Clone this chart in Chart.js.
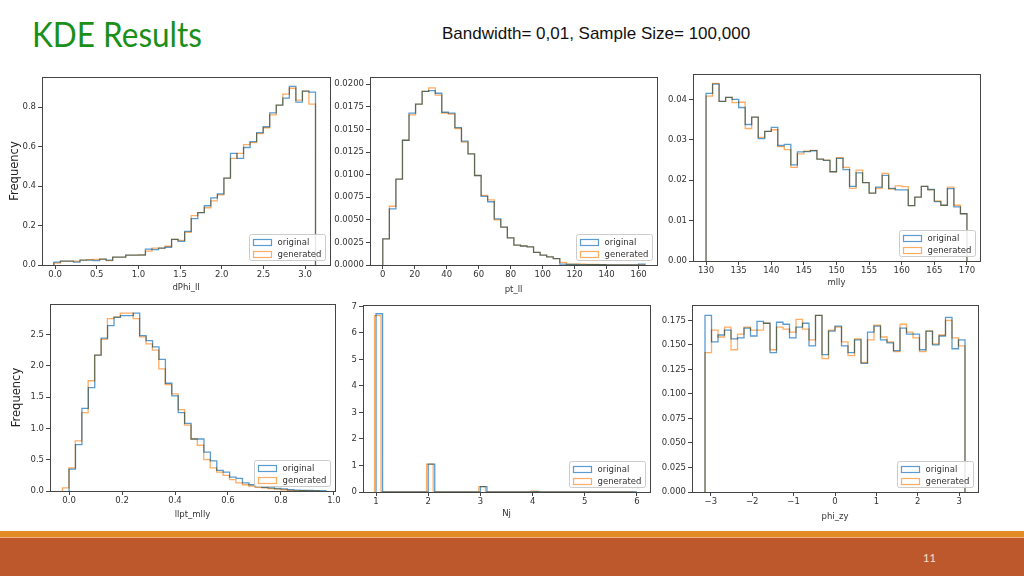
<!DOCTYPE html>
<html>
<head>
<meta charset="utf-8">
<script src="https://cdn.jsdelivr.net/npm/chart.js@4.4.0/dist/chart.umd.min.js"></script>
<style>
  body { margin: 0; width: 1024px; height: 576px; overflow: hidden; background: #fff; position: relative; }
  canvas { position: absolute; }
  #title { position: absolute; left: 32px; top: 16px; font: 35px Lato, "DejaVu Sans", sans-serif; line-height: 1; color: #1a8f1a;
           white-space: nowrap; transform: scaleX(0.9); transform-origin: 0 0; }
  #sub { position: absolute; left: 442px; top: 25px; font: 17px "Liberation Sans", Arial, sans-serif; line-height: 1; color: #111; white-space: nowrap; }
  #band { position: absolute; left: 0; top: 531px; width: 1024px; height: 6px; background: #e38b24; }
  #foot { position: absolute; left: 0; top: 537px; width: 1024px; height: 39px; background: #bc582c; border-top: 1px solid #f0b080; box-sizing: border-box; }
  #page { position: absolute; left: 923px; top: 551px; font: 11px Lato, sans-serif; color: #f8e0d0; }
</style>
</head>
<body>
<div id="title">KDE Results</div>
<div id="sub">Bandwidth= 0,01, Sample Size= 100,000</div>
<div id="band"></div>
<div id="foot"></div>
<div id="page">11</div>
<script>
// ---- data (bin heights, 40 bins each) ----
var seriesNames = ['original', 'generated'];

var dphiOrig = [0.015,0.02,0.02,0.015,0.025,0.025,0.022,0.03,0.025,0.04,0.04,0.05,0.05,0.05,0.08,0.078,0.085,0.09,0.13,0.12,
                0.17,0.235,0.265,0.30,0.34,0.36,0.44,0.565,0.54,0.595,0.625,0.67,0.70,0.77,0.81,0.845,0.905,0.825,0.88,0.875];
var dphiGen  = [0.01,0.02,0.02,0.02,0.025,0.027,0.028,0.03,0.022,0.04,0.04,0.05,0.05,0.052,0.07,0.085,0.085,0.095,0.13,0.125,
                0.165,0.25,0.265,0.29,0.325,0.355,0.44,0.54,0.565,0.61,0.62,0.665,0.695,0.76,0.81,0.865,0.895,0.835,0.88,0.815];
var dphiRange = [-0.015, 3.125];
var dphiXTicks = [0, 0.5, 1, 1.5, 2, 2.5, 3];
var dphiYTicks = [0, 0.2, 0.4, 0.6, 0.8];

var ptOrig = [0.0029,0.0062,0.0095,0.0138,0.0168,0.0178,0.0192,0.0193,0.0190,0.0169,0.0168,0.0152,0.0137,0.0123,0.0099,0.0076,0.0070,0.0051,0.0042,0.0030,
              0.0022,0.0021,0.0020,0.0014,0.0011,0.0009,0.0007,0.0001,0.00008,0.00008,0.00005,0.00005,0.00003,0.00003,0.00002,0,0,0,0,0.0001];
var ptGen  = [0.0029,0.0065,0.0095,0.0138,0.0166,0.0178,0.0192,0.0196,0.0188,0.0168,0.0167,0.0151,0.0136,0.0123,0.0099,0.0077,0.0072,0.0050,0.0042,0.0030,
              0.0022,0.0021,0.0020,0.0014,0.0011,0.0009,0.0007,0.0003,0.0001,0.0001,0.0001,0.00008,0.00008,0.00005,0,0,0,0,0,0];
var ptRange = [0, 164];
var ptXTicks = [0, 20, 40, 60, 80, 100, 120, 140, 160];
var ptYTicks = [0, 0.0025, 0.005, 0.0075, 0.01, 0.0125, 0.015, 0.0175, 0.02];

var mllyOrig = [0.0415,0.0438,0.0395,0.0405,0.0400,0.0380,0.0338,0.0356,0.0303,0.0321,0.0331,0.0286,0.0289,0.0238,0.0270,0.0271,0.0273,0.0252,0.0249,0.0221,
                0.0254,0.0226,0.0185,0.0218,0.0194,0.0168,0.0183,0.0212,0.0180,0.0176,0.0176,0.0137,0.0158,0.0185,0.0177,0.0147,0.0138,0.0179,0.0134,0.0117];
var mllyGen  = [0.0408,0.0440,0.0395,0.0405,0.0392,0.0393,0.0328,0.0356,0.0306,0.0321,0.0325,0.0283,0.0276,0.0232,0.0265,0.0272,0.0274,0.0252,0.0250,0.0221,
                0.0256,0.0232,0.0180,0.0225,0.0194,0.0168,0.0180,0.0217,0.0178,0.0186,0.0184,0.0137,0.0158,0.0185,0.0176,0.0149,0.0138,0.0183,0.0138,0.0117];
var mllyRange = [130, 170];
var mllyXTicks = [130, 135, 140, 145, 150, 155, 160, 165, 170];
var mllyYTicks = [0, 0.01, 0.02, 0.03, 0.04];

var llptOrig = [0.35,0.74,1.32,1.65,2.17,2.44,2.64,2.77,2.80,2.80,2.84,2.48,2.40,2.30,2.10,1.72,1.52,1.25,1.08,0.83,
                0.83,0.62,0.48,0.33,0.30,0.22,0.20,0.13,0.10,0.07,0.06,0.05,0.04,0.035,0.02,0.015,0.01,0.01,0.005,0.005];
var llptGen  = [0.05,0.37,0.80,1.25,1.76,2.17,2.42,2.75,2.78,2.84,2.84,2.75,2.46,2.35,2.25,1.95,1.70,1.55,1.30,1.05,
                0.83,0.73,0.50,0.37,0.30,0.25,0.18,0.13,0.10,0.08,0.06,0.05,0.04,0.03,0.02,0.01,0.005,0.005,0.002,0.002];
var llptOrigRange = [0, 0.97];
var llptGenRange = [-0.025, 0.945];
var llptXTicks = [0, 0.2, 0.4, 0.6, 0.8, 1.0];
var llptYTicks = [0, 0.5, 1.0, 1.5, 2.0, 2.5];

var njOrig = [6.72,0,0,0,0,0,0,0,1.05,0,0,0,0,0,0,0,0.2,0,0,0,0,0,0,0,0.01,0,0,0,0,0,0,0,0,0,0,0,0,0,0,0];
var njGen  = [6.65,0,0,0,0,0,0,0,1.05,0,0,0,0,0,0,0,0.2,0,0,0,0,0,0,0,0.03,0,0,0,0,0,0,0,0,0,0,0,0,0,0,0];
var njOrigRange = [1, 6];
var njGenRange = [0.97, 5.97];
var njXTicks = [1, 2, 3, 4, 5, 6];
var njYTicks = [0, 1, 2, 3, 4, 5, 6, 7];

var phiOrig = [0.180,0.153,0.160,0.165,0.156,0.157,0.167,0.159,0.174,0.172,0.142,0.173,0.171,0.157,0.168,0.172,0.149,0.180,0.140,0.164,
               0.169,0.149,0.142,0.155,0.131,0.163,0.169,0.155,0.152,0.144,0.167,0.161,0.161,0.145,0.164,0.150,0.159,0.178,0.146,0.155];
var phiGen  = [0.142,0.165,0.158,0.168,0.145,0.161,0.168,0.165,0.165,0.172,0.145,0.168,0.166,0.163,0.176,0.166,0.155,0.180,0.136,0.165,
               0.168,0.153,0.139,0.156,0.132,0.155,0.170,0.158,0.153,0.143,0.171,0.163,0.157,0.143,0.164,0.151,0.160,0.175,0.157,0.149];
var phiRange = [-3.1416, 3.1416];
var phiXTicks = [-3, -2, -1, 0, 1, 2, 3];
var phiYTicks = [0, 0.025, 0.05, 0.075, 0.1, 0.125, 0.15, 0.175];

// ---- helpers ----
var BLUE = '#5b9bd0', ORANGE = 'rgba(255,140,40,0.72)', AXIS = '#444', TXT = '#333';
var tickFont = { family: 'DejaVu Sans', size: 8.5 };

// outline of a matplotlib "step" histogram as points for a stepped line
function stepPoints(vals, range) {
  var w = (range[1] - range[0]) / vals.length;
  var pts = [{ x: range[0], y: 0 }];
  for (var i = 0; i < vals.length; i++) pts.push({ x: range[0] + (i + 1) * w, y: vals[i] });
  pts.push({ x: range[1], y: 0 });
  return pts;
}
function fmt(v, d) {
  var s = Math.abs(v).toFixed(d);
  return (v < -1e-9 ? '\u2212' : '') + s;
}

var framePlugin = {
  id: 'frame',
  afterDraw: function (chart) {
    var a = chart.chartArea, ctx = chart.ctx;
    ctx.save();
    ctx.globalCompositeOperation = 'source-over';
    ctx.strokeStyle = AXIS; ctx.lineWidth = 1;
    ctx.strokeRect(Math.round(a.left) + 0.5, Math.round(a.top) + 0.5, Math.round(a.right - a.left), Math.round(a.bottom - a.top));
    // legend
    ctx.font = '8.5px "DejaVu Sans"';
    var ds = chart.data.datasets;
    var tw = Math.max.apply(null, ds.map(function (d) { return ctx.measureText(d.label).width; }));
    var w = Math.round(4 + 18 + 6 + tw + 4), h = 26;
    var x = Math.round(a.right - 5 - w) + 0.5, y = Math.round(a.bottom - 5 - h) + 0.5;
    ctx.fillStyle = 'rgba(255,255,255,0.85)'; ctx.strokeStyle = '#cccccc';
    ctx.beginPath(); ctx.roundRect(x, y, w, h, 2); ctx.fill(); ctx.stroke();
    ds.forEach(function (d, i) {
      var cy = Math.round(y + 7 + i * 12.5);
      ctx.strokeStyle = d.borderColor; ctx.lineWidth = 1.2;
      ctx.strokeRect(x + 4, cy - 3 + 0.5, 18, 6);
      ctx.fillStyle = TXT; ctx.textBaseline = 'middle';
      ctx.fillText(d.label, x + 28, cy + 0.5);
    });
    ctx.restore();
  }
};
// generated is drawn over original; where they coincide the source looks greyish
var blendPlugin = {
  id: 'blend',
  beforeDatasetDraw: function (chart, args) {
    if (args.index === 1) { chart.ctx.save(); chart.ctx.globalCompositeOperation = 'multiply'; }
  },
  afterDatasetDraw: function (chart, args) {
    if (args.index === 1) chart.ctx.restore();
  }
};

function panel(p) {
  var c = document.createElement('canvas');
  c.width = p.w; c.height = p.h;
  c.style.left = p.left + 'px'; c.style.top = p.top + 'px';
  document.body.appendChild(c);
  var yW = p.plot[0] - p.left, padTop = p.plot[1] - p.top;
  var padRight = p.left + p.w - p.plot[2], xH = p.top + p.h - p.plot[3];
  new Chart(c.getContext('2d'), {
    type: 'line',
    data: {
      datasets: [
        { label: seriesNames[0], data: stepPoints(p.orig, p.origRange), borderColor: BLUE, borderWidth: 1.3,
          pointRadius: 0, stepped: 'after', fill: false, order: 2 },
        { label: seriesNames[1], data: stepPoints(p.gen, p.genRange), borderColor: ORANGE, borderWidth: 1.3,
          pointRadius: 0, stepped: 'after', fill: false, order: 1 }
      ]
    },
    options: {
      responsive: false, animation: false, devicePixelRatio: 1,
      layout: { padding: { top: padTop, right: padRight, left: 0, bottom: 0 } },
      plugins: { legend: { display: false }, tooltip: { enabled: false } },
      scales: {
        x: {
          type: 'linear', min: p.xLim[0], max: p.xLim[1],
          afterBuildTicks: function (s) { s.ticks = p.xTicks.map(function (v) { return { value: v }; }); },
          afterFit: function (s) { s.height = xH; s.paddingLeft = 0; s.paddingRight = 0; },
          ticks: { autoSkip: false, maxRotation: 0, padding: 1, color: TXT, font: tickFont,
                   callback: function (v) { return fmt(v, p.xDec); } },
          grid: { drawOnChartArea: false, tickLength: 4, color: AXIS },
          border: { color: AXIS },
          title: { display: true, text: p.xLabel, color: TXT, font: tickFont, padding: { top: 0, bottom: p.xTitlePad } }
        },
        y: {
          type: 'linear', min: p.yLim[0], max: p.yLim[1],
          afterBuildTicks: function (s) { s.ticks = p.yTicks.map(function (v) { return { value: v }; }); },
          afterFit: function (s) { s.width = yW; s.paddingTop = 0; s.paddingBottom = 0; },
          ticks: { autoSkip: false, padding: 2, color: TXT, font: tickFont,
                   callback: function (v) { return fmt(v, p.yDec); } },
          grid: { drawOnChartArea: false, tickLength: 4, color: AXIS },
          border: { color: AXIS },
          title: { display: !!p.yLabel, text: p.yLabel || '', color: '#222', font: { family: 'DejaVu Sans', size: 11.5 },
                   padding: { top: p.yTitlePad || 0, bottom: 0 } }
        }
      }
    },
    plugins: [blendPlugin, framePlugin]
  });
}

panel({ left: 0, top: 70, w: 336, h: 232, plot: [42, 77, 330, 265],
  orig: dphiOrig, gen: dphiGen, origRange: dphiRange, genRange: dphiRange,
  xLim: [-0.157, 3.299], yLim: [0, 0.952], xTicks: dphiXTicks, yTicks: dphiYTicks, xDec: 1, yDec: 1,
  xLabel: 'dPhi_ll', xTitlePad: 9, yLabel: 'Frequency', yTitlePad: 8 });

panel({ left: 333, top: 70, w: 330, h: 232, plot: [370, 77, 657, 265],
  orig: ptOrig, gen: ptGen, origRange: ptRange, genRange: ptRange,
  xLim: [-8, 171.5], yLim: [0, 0.0208], xTicks: ptXTicks, yTicks: ptYTicks, xDec: 0, yDec: 4,
  xLabel: 'pt_ll', xTitlePad: 7 });

panel({ left: 663, top: 66, w: 325, h: 232, plot: [693, 74, 980, 261],
  orig: mllyOrig, gen: mllyGen, origRange: mllyRange, genRange: mllyRange,
  xLim: [128, 172], yLim: [0, 0.0463], xTicks: mllyXTicks, yTicks: mllyYTicks, xDec: 0, yDec: 2,
  xLabel: 'mlly', xTitlePad: 10 });

panel({ left: 0, top: 298, w: 340, h: 232, plot: [50, 304, 335, 491],
  orig: llptOrig, gen: llptGen, origRange: llptOrigRange, genRange: llptGenRange,
  xLim: [-0.072, 1.004], yLim: [0, 2.985], xTicks: llptXTicks, yTicks: llptYTicks, xDec: 1, yDec: 1,
  xLabel: 'llpt_mlly', xTitlePad: 10, yLabel: 'Frequency', yTitlePad: 10 });

panel({ left: 340, top: 298, w: 318, h: 232, plot: [363, 305, 650, 492],
  orig: njOrig, gen: njGen, origRange: njOrigRange, genRange: njGenRange,
  xLim: [0.75, 6.25], yLim: [0, 7.05], xTicks: njXTicks, yTicks: njYTicks, xDec: 0, yDec: 0,
  xLabel: 'Nj', xTitlePad: 11 });

panel({ left: 660, top: 298, w: 326, h: 232, plot: [692, 305, 978, 492],
  orig: phiOrig, gen: phiGen, origRange: phiRange, genRange: phiRange,
  xLim: [-3.456, 3.456], yLim: [0, 0.1906], xTicks: phiXTicks, yTicks: phiYTicks, xDec: 0, yDec: 3,
  xLabel: 'phi_zy', xTitlePad: 8 });
</script>
</body>
</html>
